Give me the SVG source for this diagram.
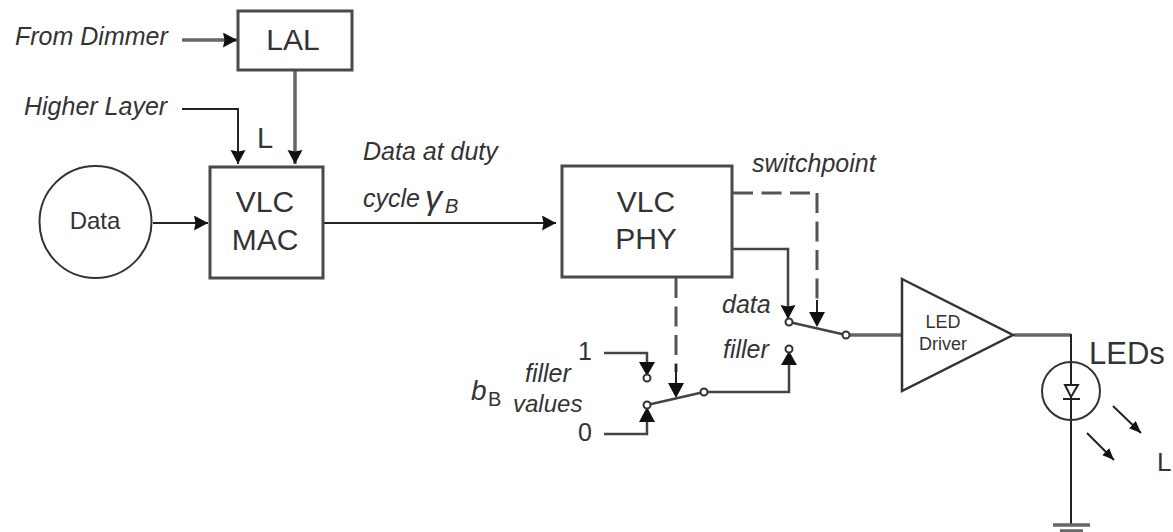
<svg xmlns="http://www.w3.org/2000/svg" width="1173" height="532" viewBox="0 0 1173 532">
<style>
text{font-family:"Liberation Sans",Arial,sans-serif;fill:#333}
.i{font-style:italic;font-size:25px}
.b{font-size:30px;text-anchor:middle}
.box{fill:#fff;stroke:#4a4a4a;stroke-width:3}
.c{fill:none;stroke:#444;stroke-width:2.5}
.k{fill:none;stroke:#666;stroke-width:3.5}
.n{fill:none;stroke:#222;stroke-width:2}
.d{fill:none;stroke:#555;stroke-width:3;stroke-dasharray:20 8.5}
.o{fill:#fff;stroke:#333;stroke-width:2}
.h{fill:#111;stroke:none}
</style>
<defs>
<marker id="a" markerUnits="userSpaceOnUse" markerWidth="16" markerHeight="16" refX="14" refY="7.5" orient="auto"><path class="h" d="M0 0L14 7.5L0 15L1.5 7.5Z"/></marker>
<marker id="s" markerUnits="userSpaceOnUse" markerWidth="14" markerHeight="12" refX="12" refY="5" orient="auto"><path class="h" d="M0 0L12 5L0 10Z"/></marker>
</defs>
<g id="connectors">
<path class="k" marker-end="url(#a)" d="M182 40H237"/>
<path class="k" marker-end="url(#a)" d="M295 71V164"/>
<path class="n" marker-end="url(#a)" d="M182 109H238V164"/>
<path class="n" marker-end="url(#a)" d="M153 223H208"/>
<path class="n" marker-end="url(#a)" d="M323 223H556"/>
<path class="d" d="M733 193H810"/>
<path class="d" d="M817 193V300"/>
<path class="n" d="M817 300V316"/>
<path class="c" marker-end="url(#a)" d="M733 249H788V319"/>
<path class="h" d="M809 312H825L817 327Z"/>
<path class="c" d="M789 322L846 335"/>
<path class="k" d="M849 335H901"/>
<path class="d" d="M676 278V372"/>
<path class="n" d="M676 364V385"/>
<path class="h" d="M668 383H684L676 398Z"/>
<path class="c" d="M604 353H647V364"/>
<path class="h" d="M639 362H655L647 376Z"/>
<path class="c" d="M604 434H647V420"/>
<path class="h" d="M639 422H655L647 407Z"/>
<path class="c" d="M647 405L704 392"/>
<path class="c" d="M707 392H789V362"/>
<path class="h" d="M781 365H797L789 351Z"/>
<path class="k" d="M1014 335H1071"/>
<path class="n" d="M1071 334V525"/>
<path class="n" marker-end="url(#s)" d="M1113 406L1141 433"/>
<path class="n" marker-end="url(#s)" d="M1087 433L1114 460"/>
</g>
<g id="lal"><rect class="box" x="238" y="11" width="114" height="59"/><text class="b" x="293" y="50">LAL</text></g>
<g id="data"><circle fill="#fff" stroke="#333" stroke-width="2" cx="95.5" cy="222" r="56"/><text x="95" y="229" font-size="24" text-anchor="middle">Data</text></g>
<g id="vlc-mac"><rect class="box" x="210" y="167" width="113" height="111"/><text class="b" x="265" y="212">VLC</text><text class="b" x="265" y="250">MAC</text></g>
<g id="vlc-phy"><rect class="box" x="562" y="166" width="170" height="111"/><text class="b" x="646" y="212">VLC</text><text class="b" x="646" y="249">PHY</text></g>
<g id="driver"><path fill="#fff" stroke="#333" stroke-width="2.5" d="M902 279L1013 335L902 391Z"/><text x="943" y="328" font-size="18" text-anchor="middle">LED</text><text x="943" y="350" font-size="18" text-anchor="middle">Driver</text></g>
<g id="led">
<circle cx="1071" cy="391" r="29" fill="none" stroke="#333" stroke-width="2"/>
<path fill="#fff" stroke="#222" stroke-width="2" d="M1065 385H1078L1071 397Z"/>
<path class="n" d="M1063 399H1080"/>
</g>
<g id="ground"><path class="k" d="M1053 525H1090"/><path class="k" d="M1060 531H1083"/></g>
<g id="switches">
<circle class="o" cx="789" cy="322" r="3.5"/><circle class="o" cx="846" cy="335" r="3.5"/><circle class="o" cx="789" cy="349" r="3.5"/>
<circle class="o" cx="647" cy="378" r="3.5"/><circle class="o" cx="647" cy="405" r="3.5"/><circle class="o" cx="704" cy="392" r="3.5"/>
</g>
<g id="labels">
<text class="i" x="15" y="45">From Dimmer</text>
<text class="i" x="24" y="115">Higher Layer</text>
<text x="257" y="148" font-size="29">L</text>
<text class="i" x="363" y="160">Data at duty</text>
<text class="i" x="363" y="207">cycle</text>
<text x="425" y="209" font-size="34" font-style="italic" font-family="Liberation Serif,serif">γ</text>
<text x="445" y="213" font-size="20" font-style="italic">B</text>
<text class="i" x="752" y="172">switchpoint</text>
<text class="i" x="722" y="313">data</text>
<text class="i" x="723" y="358">filler</text>
<text x="578" y="360" font-size="25">1</text>
<text class="i" x="525" y="382">filler</text>
<text x="471" y="400" font-size="28" font-style="italic">b</text><text x="488" y="406" font-size="20">B</text>
<text class="i" x="513" y="412" style="font-size:24px">values</text>
<text x="578" y="441" font-size="25">0</text>
<text x="1089" y="364" font-size="31">LEDs</text>
<text x="1157" y="471" font-size="26">L</text>
</g>
</svg>
